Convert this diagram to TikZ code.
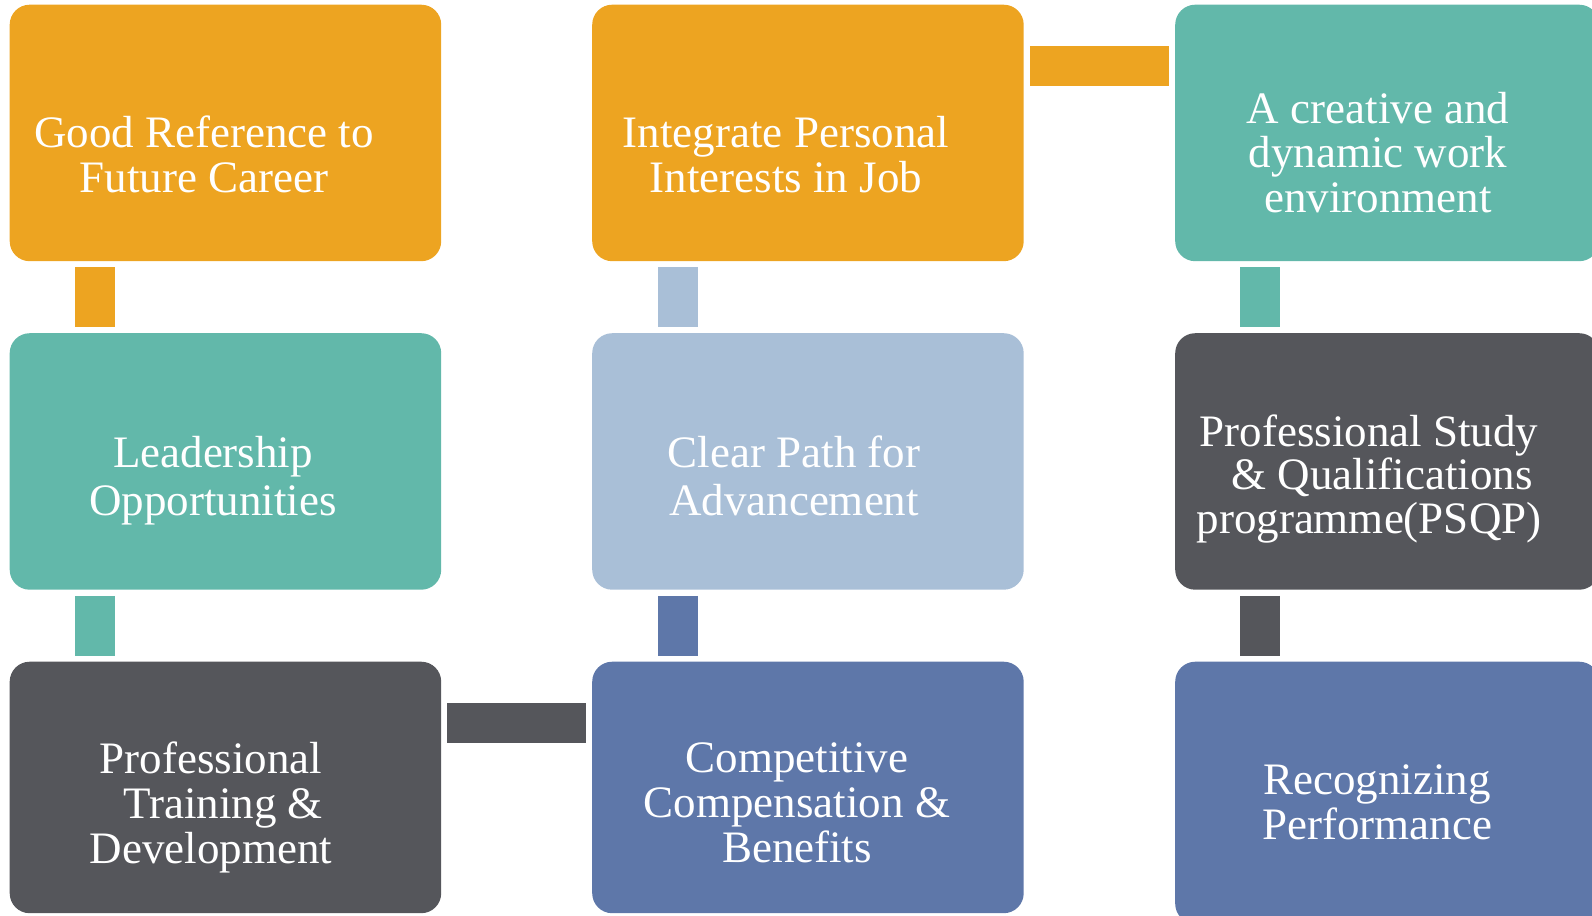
\documentclass[tikz,border=0pt]{standalone}
\usepackage{fontspec}
\setmainfont{Liberation Serif}
\definecolor{cOr}{HTML}{EDA421}
\definecolor{cTe}{HTML}{62B8AA}
\definecolor{cLb}{HTML}{A9BFD7}
\definecolor{cDg}{HTML}{55565B}
\definecolor{cBl}{HTML}{5E77A9}
\begin{document}
\begin{tikzpicture}[x=1bp,y=-1bp,
  box/.style={rectangle, rounded corners=20bp, minimum width=431.5bp, minimum height=256.5bp, inner sep=0pt, anchor=north west},
  wbox/.style={box, minimum width=424bp},
  tbox/.style={box, minimum height=251.5bp},
  wtbox/.style={box, minimum width=424bp, minimum height=262bp},
  txt/.style={text=white, align=center, font=\fontsize{45bp}{45bp}\selectfont, inner sep=0pt},
  txtw/.style={txt, font=\fontsize{45bp}{48bp}\selectfont},
  txtn/.style={txt, font=\fontsize{45bp}{43.5bp}\selectfont},
  bar/.style={line width=40bp, shorten <=6bp, shorten >=6bp}]
\useasboundingbox (0,0) rectangle (1592,915);
\clip (0,0) rectangle (1592,915);
% boxes
\node[box, fill=cOr] (b1) at (9.5,4.5) {};
\node[box, fill=cOr] (b2) at (592,4.5) {};
\node[wbox, fill=cTe] (b3) at (1175,4.5) {};
\node[box, fill=cTe] (b4) at (9.5,333) {};
\node[box, fill=cLb] (b5) at (592,333) {};
\node[wbox, fill=cDg] (b6) at (1175,333) {};
\node[tbox, fill=cDg] (b7) at (9.5,661.5) {};
\node[tbox, fill=cBl] (b8) at (592,661.5) {};
\node[wtbox, fill=cBl] (b9) at (1175,661.5) {};
% connectors
\draw[bar, cOr] ([xshift=85.5bp]b1.south west) -- ([xshift=85.5bp]b4.north west);
\draw[bar, cTe] ([xshift=85.5bp]b4.south west) -- ([xshift=85.5bp]b7.north west);
\draw[bar, cLb] ([xshift=85.5bp]b2.south west) -- ([xshift=85.5bp]b5.north west);
\draw[bar, cBl] ([xshift=85.5bp]b5.south west) -- ([xshift=85.5bp]b8.north west);
\draw[bar, cTe] ([xshift=85bp]b3.south west) -- ([xshift=85bp]b6.north west);
\draw[bar, cDg] ([xshift=85bp]b6.south west) -- ([xshift=85bp]b9.north west);
\draw[bar, cOr] ([yshift=-61.5bp]b2.north east) -- ([yshift=-61.5bp]b3.north west);
\draw[bar, cDg] ([yshift=-61.5bp]b7.north east) -- ([yshift=-61.5bp]b8.north west);
% texts
\node[txt] (t1) at (204,154.2) {Good Reference to\\Future Career};
\node[txt] (t2) at (786,154.2) {Integrate Personal\\Interests in Job};
\node[txt, font=\fontsize{45bp}{44.7bp}\selectfont] (t3) at (1378,152.5) {A creative and\\dynamic work\\environment};
\node[txtw] (t4) at (213,480.5) {Leadership\\Opportunities};
\node[txtw] (t5) at (794,475.7) {Clear Path for\\Advancement};
\node[txtn] (t6) at (1369,479) {Professional Study\\\hspace*{26bp}\& Qualifications\\programme(PSQP)};
\node[txt] (t7) at (211,807.5) {Professional\\\hspace*{24bp}Training \&\\Development};
\node[txt] (t8) at (797,802.7) {Competitive\\Compensation \&\hspace*{10bp}\\Benefits};
\node[txt, font=\fontsize{45bp}{44.7bp}\selectfont] (t9) at (1377,802.3) {Recognizing\\Performance};
\end{tikzpicture}
\end{document}
